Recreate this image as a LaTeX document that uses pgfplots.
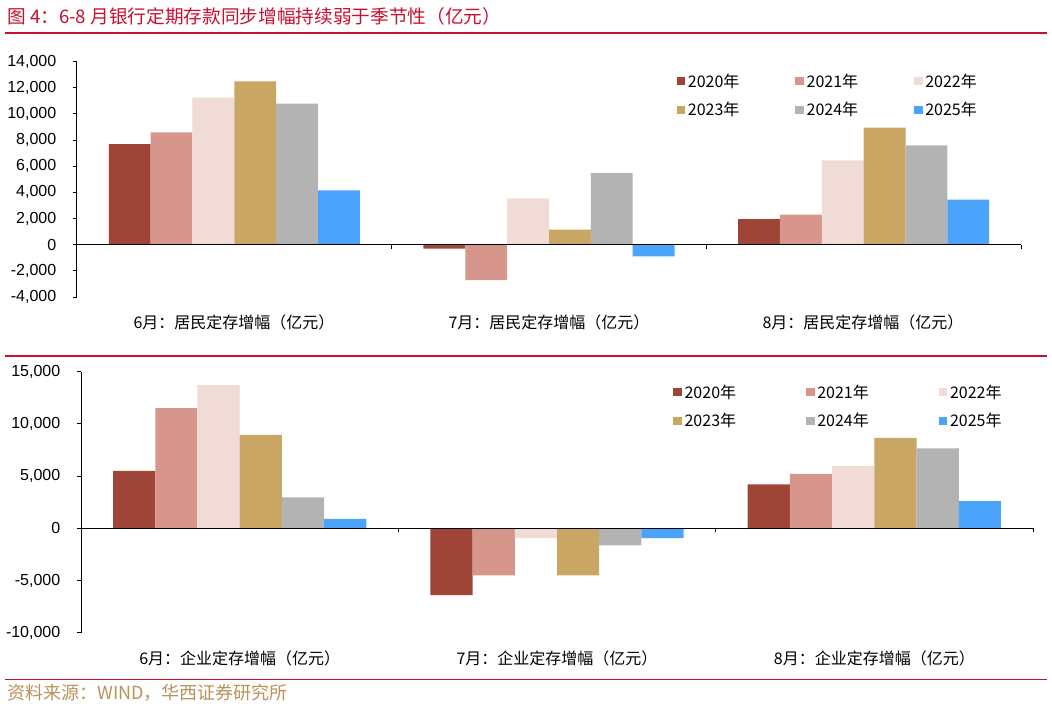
\documentclass[border=0pt]{standalone}
\usepackage{fontspec}
\setmainfont{Liberation Sans}
\newfontfamily\cjk{Noto Sans CJK SC}
\usepackage{pgfplots}
\usepackage{pgfplotstable}
\pgfplotsset{compat=1.18}

\definecolor{c20}{HTML}{9E4537}
\definecolor{c21}{HTML}{D6968B}
\definecolor{c22}{HTML}{F0DBD6}
\definecolor{c23}{HTML}{C9A664}
\definecolor{c24}{HTML}{B3B3B3}
\definecolor{c25}{HTML}{4BA3FB}
\definecolor{rulered}{HTML}{C8102E}
\definecolor{srcgold}{HTML}{B8925A}

% 居民定存增幅 (亿元), rows: 6月, 7月, 8月
\pgfplotstableread{
cat y2020 y2021 y2022 y2023 y2024 y2025
0 7700 8600 11250 12500 10800 4150
1 -300 -2700 3550 1150 5500 -900
2 1950 2300 6450 8950 7600 3450
}\household
% 企业定存增幅 (亿元)
\pgfplotstableread{
cat y2020 y2021 y2022 y2023 y2024 y2025
0 5500 11500 13700 8950 2950 900
1 -6400 -4500 -950 -4500 -1650 -950
2 4200 5200 5950 8650 7650 2600
}\corporate

\pgfplotsset{
  depo/.style={
    scale only axis, anchor=south west,
    xmin=-0.5, xmax=2.5,
    axis y line=left, axis x line=middle,
    axis line style={-, black, line width=0.75pt},
    every inner x axis line/.append style={-},
    every outer y axis line/.append style={-},
    xtick={-0.5,0.5,1.5,2.5}, xticklabels={,,,},
    xtick align=inside, ytick align=outside,
    major tick length=3pt,
    tick style={black, line width=0.75pt},
    ybar=0pt, bar width=0.133,
    axis on top,
    scaled y ticks=false,
    yticklabel style={font=\fontsize{12}{14}\selectfont, xshift=-9pt},
    /pgf/number format/fixed,
    /pgf/number format/1000 sep={,},
    /pgf/number format/assume math mode=true,
    legend columns=3,
    legend image code/.code={\fill[##1] (0pt,-3pt) rectangle (6.4pt,3pt);},
    legend style={draw=none, fill=none, inner xsep=0pt, inner ysep=0pt,
      font=\cjk\fontsize{12}{13}\selectfont, anchor=north west,
      row sep=6pt},
    legend cell align=left,
  },
}

\begin{document}
\begin{tikzpicture}[x=0.75pt, y=0.75pt]
\path[use as bounding box] (0,0) rectangle (1052,708);

% title and rules
\node[anchor=west, inner sep=0pt, text=rulered, font=\cjk\fontsize{14}{16}\selectfont]
  at (7,692) {图 4：6-8 月银行定期存款同步增幅持续弱于季节性（亿元）};
\draw[rulered, line width=1.1pt] (5,675) -- (1047,675);
\draw[rulered, line width=1.1pt] (5,352) -- (1047,352);
\draw[rulered, line width=1.1pt] (5,28.7) -- (1047,28.7);
\node[anchor=west, inner sep=0pt, text=srcgold, font=\cjk\fontsize{13.5}{15}\selectfont]
  at (7,15.3) {资料来源：WIND，华西证券研究所};

% top panel: household
\begin{axis}[depo,
  at={(57.75pt,308.25pt)}, width=708pt, height=176.5pt,
  ymin=-4000, ymax=14000, ytick={-4000,-2000,...,14000},
  legend style={at={(0.635,0.962)},
    /tikz/every even column/.append style={column sep=40pt}},
]
\addplot[fill=c20, draw=none] table[x=cat, y=y2020] {\household};
\addplot[fill=c21, draw=none] table[x=cat, y=y2021] {\household};
\addplot[fill=c22, draw=none] table[x=cat, y=y2022] {\household};
\addplot[fill=c23, draw=none] table[x=cat, y=y2023] {\household};
\addplot[fill=c24, draw=none] table[x=cat, y=y2024] {\household};
\addplot[fill=c25, draw=none] table[x=cat, y=y2025] {\household};
\legend{2020年,2021年,2022年,2023年,2024年,2025年}
\end{axis}

% bottom panel: corporate
\begin{axis}[depo,
  at={(60.75pt,56.5pt)}, width=714pt, height=195.75pt,
  ymin=-10000, ymax=15000, ytick={-10000,-5000,...,15000},
  legend style={at={(0.622,0.962)},
    /tikz/every even column/.append style={column sep=50.5pt}},
]
\addplot[fill=c20, draw=none] table[x=cat, y=y2020] {\corporate};
\addplot[fill=c21, draw=none] table[x=cat, y=y2021] {\corporate};
\addplot[fill=c22, draw=none] table[x=cat, y=y2022] {\corporate};
\addplot[fill=c23, draw=none] table[x=cat, y=y2023] {\corporate};
\addplot[fill=c24, draw=none] table[x=cat, y=y2024] {\corporate};
\addplot[fill=c25, draw=none] table[x=cat, y=y2025] {\corporate};
\legend{2020年,2021年,2022年,2023年,2024年,2025年}
\end{axis}

% category labels
\begin{scope}[every node/.style={font=\cjk\fontsize{12}{14}\selectfont, inner sep=0pt}]
\node at (234,386) {6月：居民定存增幅（亿元）};
\node at (549,386) {7月：居民定存增幅（亿元）};
\node at (863,386) {8月：居民定存增幅（亿元）};
\node at (239.7,50) {6月：企业定存增幅（亿元）};
\node at (557,50) {7月：企业定存增幅（亿元）};
\node at (874.3,50) {8月：企业定存增幅（亿元）};
\end{scope}
\end{tikzpicture}
\end{document}
